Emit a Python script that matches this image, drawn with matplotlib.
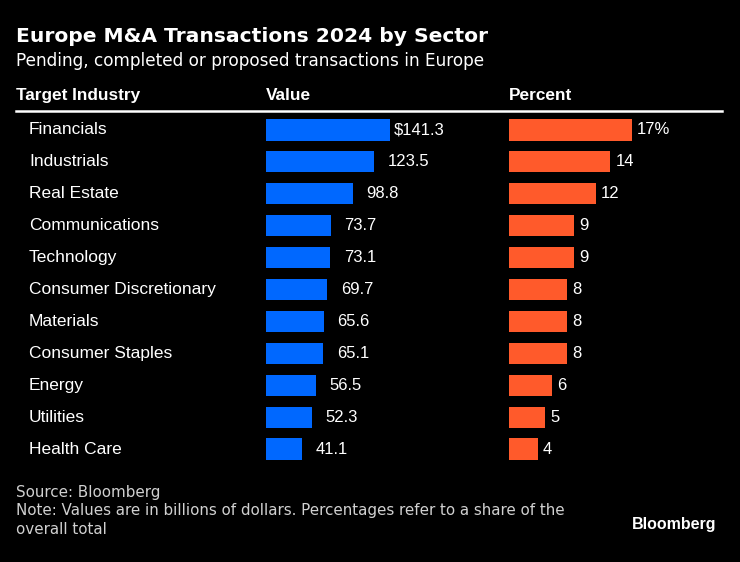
"""
Europe M&A transactions 2024 by sector -- Bloomberg-style dark table chart.
"""

import matplotlib
matplotlib.use('Agg')
import matplotlib.pyplot as plt
from matplotlib.transforms import blended_transform_factory

sectors = ['Financials', 'Industrials', 'Real Estate', 'Communications',
           'Technology', 'Consumer Discretionary', 'Materials',
           'Consumer Staples', 'Energy', 'Utilities', 'Health Care']
values = [141.3, 123.5, 98.8, 73.7, 73.1, 69.7, 65.6, 65.1, 56.5, 52.3, 41.1]
value_labels = ['$141.3', '123.5', '98.8', '73.7', '73.1', '69.7', '65.6',
                '65.1', '56.5', '52.3', '41.1']
percents = [17, 14, 12, 9, 9, 8, 8, 8, 6, 5, 4]
percent_labels = ['17%', '14', '12', '9', '9', '8', '8', '8', '6', '5', '4']

W, H = 740, 562
BG = '#000000'
BLUE = '#0068ff'
ORANGE = '#ff5a2b'
LABEL_FONT = ['Liberation Sans', 'DejaVu Sans']
NOTE_FONT = ['DejaVu Sans']

fig = plt.figure(figsize=(W / 100, H / 100), dpi=100, facecolor=BG)


def px(x, y):
    # pixel coords (from top-left) -> figure fraction
    return x / W, 1 - y / H


def add_axes_px(left, top, width, height):
    return fig.add_axes([left / W, 1 - (top + height) / H, width / W, height / H])


# ---- Titles ----
fig.text(*px(16, 37), 'Europe M&A Transactions 2024 by Sector', color='white',
         fontsize=14.6, fontweight='bold', family='DejaVu Sans', va='center')
fig.text(*px(16, 61), 'Pending, completed or proposed transactions in Europe',
         color='white', fontsize=12.2, family='DejaVu Sans', va='center')

# ---- Column headers ----
for x, t in [(16, 'Target Industry'), (266, 'Value'), (509, 'Percent')]:
    fig.text(*px(x, 95), t, color='white', fontsize=12.4, fontweight='bold',
             family=LABEL_FONT, va='center')
fig.add_artist(plt.Line2D([16 / W, 722 / W], [1 - 111 / H] * 2,
                          color='white', lw=1.8, transform=fig.transFigure))

# ---- Bars ----
row_h = 31.9
top = 130 - row_h / 2
n = len(sectors)
ypos = list(range(n))

val_scale = 124 / 141.3   # px per billion
pct_scale = 123 / 17      # px per percent

ax_v = add_axes_px(266, top, 230, row_h * n)
ax_p = add_axes_px(509, top, 200, row_h * n)
ax_v.set_xlim(0, 230 / val_scale)
ax_p.set_xlim(0, 200 / pct_scale)

ax_v.barh(ypos, values, height=0.66, color=BLUE)
ax_p.barh(ypos, percents, height=0.66, color=ORANGE)

for ax in (ax_v, ax_p):
    ax.set_ylim(n - 0.5, -0.5)
    ax.axis('off')
    ax.set_facecolor(BG)

dollar_w = 9.5 / val_scale
for i, (v, lab) in enumerate(zip(values, value_labels)):
    off = 4 / val_scale if lab.startswith('$') else 4 / val_scale + dollar_w
    ax_v.text(v + off, i, lab, color='white', fontsize=12, family=LABEL_FONT,
              va='center', ha='left')
for i, (p, lab) in enumerate(zip(percents, percent_labels)):
    ax_p.text(p + 5 / pct_scale, i, lab, color='white', fontsize=12,
              family=LABEL_FONT, va='center', ha='left')

# ---- Category labels ----
trans = blended_transform_factory(fig.transFigure, ax_v.transData)
for i, s in enumerate(sectors):
    fig.text(29 / W, i, s, transform=trans, color='white', fontsize=12.5,
             family=LABEL_FONT, va='center', ha='left')

# ---- Footer ----
fig.text(*px(16, 492), 'Source: Bloomberg', color='#d0d0d0', fontsize=10.9,
         family=NOTE_FONT, va='center')
fig.text(*px(16, 511), 'Note: Values are in billions of dollars. Percentages refer to a share of the',
         color='#d0d0d0', fontsize=10.9, family=NOTE_FONT, va='center')
fig.text(*px(16, 529), 'overall total', color='#d0d0d0', fontsize=10.9,
         family=NOTE_FONT, va='center')
fig.text(*px(716, 525), 'Bloomberg', color='white', fontsize=11.5,
         fontweight='bold', family=LABEL_FONT, va='center', ha='right')

fig.savefig('out.png', dpi=100, facecolor=BG)
